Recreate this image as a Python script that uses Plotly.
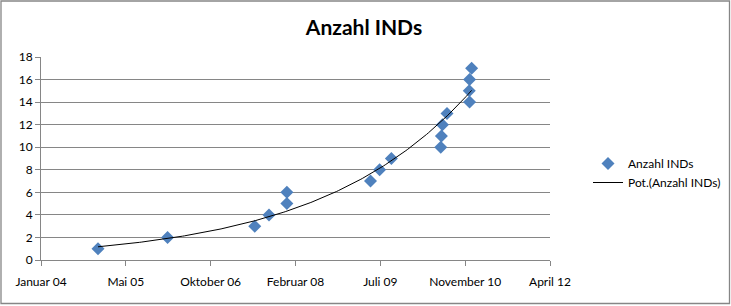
import numpy as np
import pandas as pd
import plotly.graph_objects as go

# Data
dates = ["2004-12-15", "2006-01-29", "2007-06-27", "2007-09-19", "2008-01-02", "2008-01-02",
         "2009-05-09", "2009-07-02", "2009-09-09", "2010-06-27", "2010-07-01", "2010-07-07",
         "2010-08-03", "2010-12-14", "2010-12-12", "2010-12-14", "2010-12-26"]
counts = [1, 2, 3, 4, 5, 6, 7, 8, 9, 10, 11, 12, 13, 14, 15, 16, 17]

tick_dates = ["2004-01-14", "2005-05-28", "2006-10-10", "2008-02-22", "2009-07-06", "2010-11-18", "2012-04-01"]
tick_labels = ["Januar 04", "Mai 05", "Oktober 06", "Februar 08", "Juli 09", "November 10", "April 12"]

series_name = "Anzahl INDs"
trend_name = "Pot.(Anzahl INDs)"

# Power trendline (Excel-style, on date serials)
epoch = pd.Timestamp("1899-12-30")
d = pd.to_datetime(dates)
serial = np.array([(t - epoch).days for t in d], dtype=float)
yv = np.array(counts, dtype=float)
b, lna = np.polyfit(np.log(serial), np.log(yv), 1)
xs = np.linspace(serial.min(), serial.max(), 200)
ys = np.exp(lna) * xs ** b
xs_dates = [epoch + pd.Timedelta(days=float(v)) for v in xs]

FONT = "Lato"
GRID = "#868686"

W, H = 731, 306
ML, MR, MT, MB = 41, 181, 57, 46
PW, PH = W - ML - MR, H - MT - MB

fig = go.Figure()
fig.add_trace(go.Scatter(
    x=d, y=counts, mode="markers", name=series_name,
    marker=dict(symbol="diamond", size=10, color="#4F81BD", line=dict(width=0)),
))
fig.add_trace(go.Scatter(
    x=xs_dates, y=ys, mode="lines", name=trend_name,
    line=dict(color="black", width=1),
))

def px(x):
    return (x - ML) / PW

def py(y):
    return (H - MB - y) / PH

fig.add_shape(type="rect", xref="paper", yref="paper",
              x0=px(1), x1=px(729.5), y0=py(303.5), y1=py(1),
              line=dict(color=GRID, width=1.3), fillcolor="rgba(0,0,0,0)", layer="below")

fig.update_layout(
    width=W, height=H,
    margin=dict(l=ML, r=MR, t=MT, b=MB, autoexpand=False),
    paper_bgcolor="white", plot_bgcolor="white",
    font=dict(family=FONT, size=12, color="black"),
    title=dict(text="<b>Anzahl INDs</b>", xref="container", x=364 / W, xanchor="center",
               yref="container", y=(H - 28) / H, yanchor="middle",
               font=dict(family=FONT, size=21, color="black")),
    showlegend=True,
    legend=dict(x=px(588), y=py(149), xanchor="left", yanchor="top",
                font=dict(family=FONT, size=12), bgcolor="rgba(0,0,0,0)",
                tracegroupgap=0, itemwidth=30),
    xaxis=dict(
        type="date", range=[tick_dates[0], tick_dates[-1]],
        tickvals=tick_dates, ticktext=tick_labels,
        showgrid=False, zeroline=False,
        showline=True, linecolor=GRID, linewidth=1,
        ticks="outside", ticklen=5, tickcolor=GRID,
        tickfont=dict(family=FONT, size=12), ticklabelstandoff=6,
    ),
    yaxis=dict(
        range=[0, 18], dtick=2, tick0=0,
        showgrid=True, gridcolor=GRID, gridwidth=1,
        zeroline=False,
        showline=True, linecolor=GRID, linewidth=1,
        ticks="outside", ticklen=5, tickcolor=GRID,
        tickfont=dict(family=FONT, size=12),
    ),
)

fig.write_html("out.html")
